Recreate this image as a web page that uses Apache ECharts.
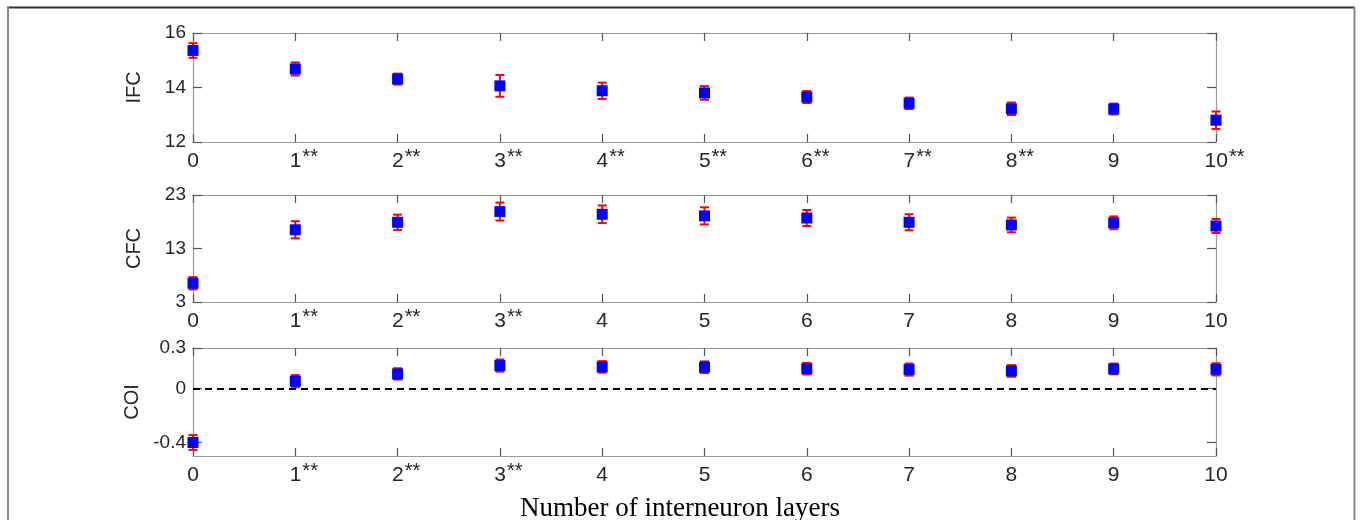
<!DOCTYPE html>
<html>
<head>
<meta charset="utf-8">
<script src="https://cdn.jsdelivr.net/npm/echarts@6/dist/echarts.min.js"></script>
<style>
html,body{margin:0;padding:0;background:#fff;}
#chart{width:1360px;height:520px;}
</style>
</head>
<body>
<div id="chart"></div>
<script>
// ---- data ----
const layers = [0, 1, 2, 3, 4, 5, 6, 7, 8, 9, 10];
const ifcMean = [15.36, 14.68, 14.31, 14.06, 13.88, 13.80, 13.65, 13.42, 13.22, 13.21, 12.80];
const ifcErr  = [0.27, 0.24, 0.20, 0.40, 0.30, 0.25, 0.22, 0.21, 0.23, 0.20, 0.32];
const cfcMean = [6.5, 16.5, 17.9, 19.9, 19.4, 19.1, 18.7, 17.9, 17.4, 17.8, 17.2];
const cfcErr  = [1.15, 1.6, 1.43, 1.68, 1.65, 1.6, 1.5, 1.5, 1.37, 1.2, 1.3];
const coiMean = [-0.40, 0.054, 0.108, 0.17, 0.16, 0.158, 0.147, 0.14, 0.13, 0.145, 0.142];
const coiErr  = [0.055, 0.045, 0.042, 0.045, 0.043, 0.043, 0.043, 0.045, 0.043, 0.04, 0.045];
const ifcStarred = [1, 2, 3, 4, 5, 6, 7, 8, 10];
const cfcStarred = [1, 2, 3];
const coiStarred = [1, 2, 3];
const ifcTicks = [12, 14, 16];
const cfcTicks = [3, 13, 23];
const coiTicks = [-0.4, 0, 0.3];
const panelNames = ['IFC', 'CFC', 'COI'];
const xTitle = 'Number of interneuron layers';

// ---- layout ----
const panels = [
  {name: panelNames[0], mean: ifcMean, err: ifcErr, starred: ifcStarred, ticks: ifcTicks, min: 12, max: 16, top: 33, height: 109},
  {name: panelNames[1], mean: cfcMean, err: cfcErr, starred: cfcStarred, ticks: cfcTicks, min: 3, max: 23, top: 195, height: 107},
  {name: panelNames[2], mean: coiMean, err: coiErr, starred: coiStarred, ticks: coiTicks, min: -0.5, max: 0.3, top: 348, height: 108}
];
const boxColor = '#9a9a9a';
const tickColor = '#555';
const textColor = '#262626';
const sans = 'Liberation Sans, Arial';

const grid = [], xAxis = [], yAxis = [], series = [];
panels.forEach((p, i) => {
  grid.push({left: 193, width: 1023, top: p.top, height: p.height, containLabel: false});
  xAxis.push({
    type: 'value', gridIndex: i, min: 0, max: 10, interval: 1, position: 'bottom',
    axisLine: {show: true, onZero: false, lineStyle: {color: boxColor, width: 1.2}},
    axisTick: {show: true, inside: true, length: 8, lineStyle: {color: tickColor, width: 1.2}},
    splitLine: {show: false},
    axisLabel: {
      margin: 6, color: textColor, fontFamily: sans, fontSize: 21,
      formatter: function (v) {
        return p.starred.indexOf(v) >= 0 ? '{p| }{n|' + v + '}{s|**}' : '{n|' + v + '}';
      },
      rich: {
        n: {fontSize: 21, fontFamily: sans, color: textColor, verticalAlign: 'bottom', lineHeight: 24},
        s: {fontSize: 20, fontFamily: sans, color: textColor, verticalAlign: 'bottom', padding: [0, 0, 5, 1], lineHeight: 24},
        p: {width: 17, fontSize: 21, lineHeight: 24}
      }
    }
  });
  xAxis.push({
    type: 'value', gridIndex: i, min: 0, max: 10, interval: 1, position: 'top',
    axisLine: {show: true, onZero: false, lineStyle: {color: boxColor, width: 1.2}},
    axisTick: {show: true, inside: true, length: 8, lineStyle: {color: tickColor, width: 1.2}},
    axisLabel: {show: false}, splitLine: {show: false}
  });
  yAxis.push({
    type: 'value', gridIndex: i, min: p.min, max: p.max, position: 'left',
    name: p.name, nameLocation: 'middle', nameGap: 49, nameRotate: 90,
    nameTextStyle: {fontFamily: sans, fontSize: 20, color: textColor},
    axisLine: {show: true, onZero: false, lineStyle: {color: boxColor, width: 1.2}},
    axisTick: {show: true, inside: true, length: 9, customValues: p.ticks, lineStyle: {color: tickColor, width: 1.2}},
    axisLabel: {customValues: p.ticks, margin: 7, color: textColor, fontFamily: sans, fontSize: 19},
    splitLine: {show: false}
  });
  yAxis.push({
    type: 'value', gridIndex: i, min: p.min, max: p.max, position: 'right',
    axisLine: {show: true, onZero: false, lineStyle: {color: boxColor, width: 1.2}},
    axisTick: {show: true, inside: true, length: 9, customValues: p.ticks, lineStyle: {color: tickColor, width: 1.2}},
    axisLabel: {show: false}, splitLine: {show: false}
  });

  const errData = layers.map((x, k) => [x, p.mean[k] - p.err[k], p.mean[k] + p.err[k]]);
  series.push({
    type: 'custom', xAxisIndex: 2 * i, yAxisIndex: 2 * i, z: 3,
    data: errData,
    renderItem: function (params, api) {
      const x = api.value(0);
      const lo = api.coord([x, api.value(1)]);
      const hi = api.coord([x, api.value(2)]);
      const hw = 4.5;
      const style = {stroke: '#ff0000', lineWidth: 2};
      return {
        type: 'group',
        children: [
          {type: 'line', shape: {x1: lo[0], y1: lo[1], x2: hi[0], y2: hi[1]}, style: style},
          {type: 'line', shape: {x1: lo[0] - hw, y1: lo[1], x2: lo[0] + hw, y2: lo[1]}, style: style},
          {type: 'line', shape: {x1: hi[0] - hw, y1: hi[1], x2: hi[0] + hw, y2: hi[1]}, style: style}
        ]
      };
    }
  });
  const sc = {
    type: 'scatter', xAxisIndex: 2 * i, yAxisIndex: 2 * i, z: 4,
    symbol: 'rect', symbolSize: 11,
    itemStyle: {color: '#0000ff', opacity: 1},
    data: layers.map((x, k) => [x, p.mean[k]]),
    clip: false, silent: true
  };
  if (i === 2) {
    sc.markLine = {
      silent: true, symbol: 'none', label: {show: false},
      lineStyle: {color: '#000', width: 2.2, type: [7, 5]},
      data: [{yAxis: 0}]
    };
  }
  series.push(sc);
});

const chart = echarts.init(document.getElementById('chart'), null, {renderer: 'canvas'});
chart.setOption({
  animation: false,
  backgroundColor: '#ffffff',
  grid: grid, xAxis: xAxis, yAxis: yAxis, series: series,
  title: {
    text: xTitle, left: 'center', top: 490,
    textStyle: {fontFamily: 'Liberation Serif, Times New Roman', fontSize: 27, fontWeight: 'normal', color: '#000'}
  },
  graphic: [
    {type: 'line', shape: {x1: 7, y1: 7.5, x2: 1355, y2: 7.5}, style: {stroke: '#333', lineWidth: 2}},
    {type: 'line', shape: {x1: 8, y1: 7, x2: 8, y2: 520}, style: {stroke: '#888', lineWidth: 2}},
    {type: 'line', shape: {x1: 1354.5, y1: 7, x2: 1354.5, y2: 520}, style: {stroke: '#888', lineWidth: 2}}
  ]
});
</script>
</body>
</html>
